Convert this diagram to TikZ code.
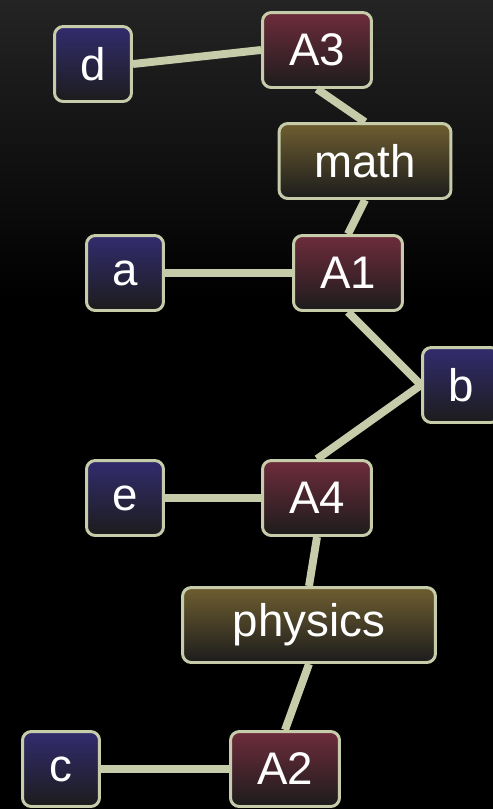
\documentclass[tikz,border=0pt]{standalone}
\usepackage{fontspec}
\setmainfont{Liberation Sans}
\usetikzlibrary{positioning}
\definecolor{sage}{RGB}{198,204,170}
\definecolor{indigo}{RGB}{50,44,110}
\definecolor{wine}{RGB}{110,44,60}
\definecolor{olive}{RGB}{110,94,48}
\definecolor{coal}{RGB}{28,28,28}
\tikzset{
  card/.style={draw=sage,line width=1.7pt,rounded corners=5pt,top color=#1,bottom color=coal,
    text=white,minimum height=15mm,minimum width=15.4mm,inner sep=0pt,
    font=\fontsize{26}{28}\selectfont},
  card/.default=indigo,
  item/.style={card=wine,minimum width=21.8mm},
  topic/.style={card=olive,minimum width=#1},
  link/.style={draw=sage,line width=4.5pt},
}

\begin{document}
\begin{tikzpicture}[x=0.02cm,y=-0.02cm]
  \useasboundingbox (0,0) rectangle (493,809);
  \clip (0,0) rectangle (493,809);
  \fill[black] (0,0) rectangle (493,809);
  \shade[top color=black!86!white,bottom color=black] (0,0) rectangle (493,300);
  % nodes
  \node[card] (d) at (93,64) {d};
  \node[item] (A3) at (317,50) {A3};
  \node[topic=34.4mm] (math) at (365,161) {math};
  \node[card] (a) at (125,273) {a};
  \node[item] (A1) at (348,273) {A1};
  \node[card] (b) at (461,385) {b};
  \node[card] (e) at (125,498) {e};
  \node[item] (A4) at (317,498) {A4};
  \node[topic=50.6mm] (physics) at (309,625) {physics};
  \node[card] (c) at (61,769) {c};
  \node[item] (A2) at (285,769) {A2};
  % links
  \draw[link] (d.east) -- (A3.west);
  \draw[link] (A3.south) -- (math.north);
  \draw[link] (math.south) -- (A1.north);
  \draw[link] (a.east) -- (A1.west);
  \draw[link] (A1.south) -- (b.west);
  \draw[link] (b.west) -- (A4.north);
  \draw[link] (e.east) -- (A4.west);
  \draw[link] (A4.south) -- (physics.north);
  \draw[link] (physics.south) -- (A2.north);
  \draw[link] (c.east) -- (A2.west);
\end{tikzpicture}
\end{document}
